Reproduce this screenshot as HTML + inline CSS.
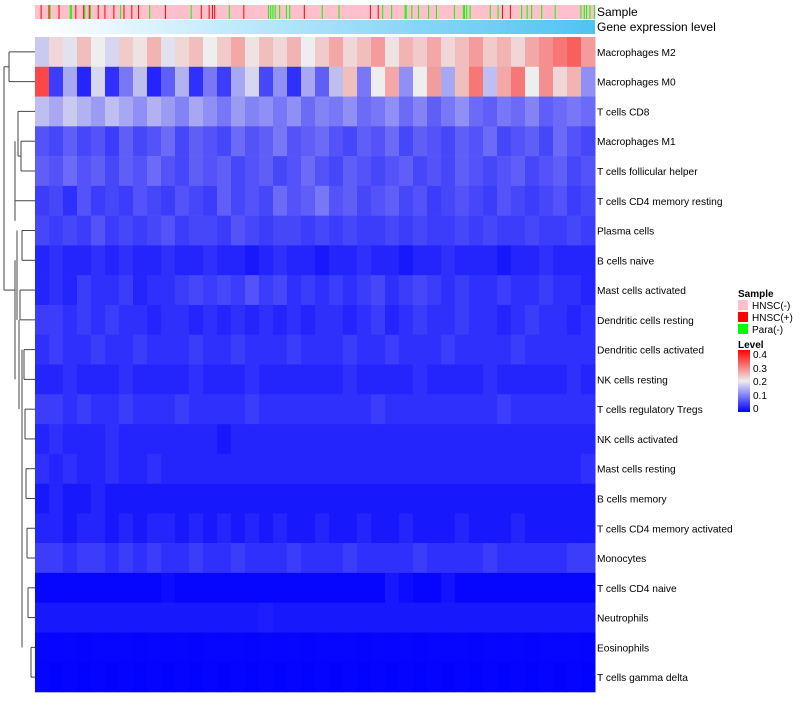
<!DOCTYPE html>
<html><head><meta charset="utf-8"><style>
body{margin:0;background:#fff;width:800px;height:700px;overflow:hidden;font-family:"Liberation Sans",sans-serif}
</style></head><body>
<svg id="chart" width="800" height="700" xmlns="http://www.w3.org/2000/svg" style="font-family:'Liberation Sans',sans-serif">
<defs>
<linearGradient id="geneGrad" x1="0" x2="1" y1="0" y2="0"><stop offset="0" stop-color="#ffffff"/><stop offset="1" stop-color="#4fc3f3"/></linearGradient>
<linearGradient id="levelGrad" x1="0" x2="0" y1="1" y2="0"><stop offset="0" stop-color="#0000ff"/><stop offset="0.5" stop-color="#eeeeee"/><stop offset="1" stop-color="#ff0000"/></linearGradient>
</defs>
<g id="dendro" stroke="#444" fill="none" stroke-width="1"></g>
<rect x="35" y="5" width="560" height="14" fill="#ffc0cb"/>
<g id="sampleMarks"></g>
<rect x="35" y="20" width="560" height="14" fill="url(#geneGrad)"/>
<text x="597" y="16" font-size="12">Sample</text>
<text x="597" y="31" font-size="12">Gene expression level</text>
<g id="cells"></g>
<g id="rowLabels" font-size="10.2"></g>
<g font-size="10">
<text x="738" y="297" font-weight="bold">Sample</text>
<rect x="738" y="300" width="10" height="10" fill="#ffc0cb"/><text x="752" y="309">HNSC(-)</text>
<rect x="738" y="312" width="10" height="10" fill="#ff0000"/><text x="752" y="321">HNSC(+)</text>
<rect x="738" y="324" width="10" height="10" fill="#00ff00"/><text x="752" y="333">Para(-)</text>
<text x="738" y="348" font-weight="bold">Level</text>
<rect x="738" y="350" width="12" height="62" fill="url(#levelGrad)"/>
<text x="753" y="358">0.4</text><text x="753" y="372">0.3</text><text x="753" y="385">0.2</text><text x="753" y="399">0.1</text><text x="753" y="412">0</text>
</g>
</svg>
<script>
const rowNames=["Macrophages M2","Macrophages M0","T cells CD8","Macrophages M1","T cells follicular helper","T cells CD4 memory resting","Plasma cells","B cells naive","Mast cells activated","Dendritic cells resting","Dendritic cells activated","NK cells resting","T cells regulatory  Tregs","NK cells activated","Mast cells resting","B cells memory","T cells CD4 memory activated","Monocytes","T cells CD4 naive","Neutrophils","Eosinophils","T cells gamma delta"];
const vM2=[0.17,0.22,0.19,0.24,0.2,0.18,0.23,0.21,0.25,0.19,0.22,0.24,0.2,0.23,0.26,0.21,0.24,0.22,0.25,0.2,0.23,0.26,0.22,0.24,0.27,0.21,0.25,0.23,0.26,0.22,0.24,0.27,0.23,0.25,0.22,0.26,0.28,0.3,0.32,0.27];
const vM0=[0.34,0.05,0.14,0.03,0.18,0.04,0.1,0.16,0.03,0.08,0.15,0.04,0.1,0.05,0.14,0.18,0.06,0.12,0.04,0.14,0.08,0.16,0.24,0.1,0.2,0.26,0.12,0.2,0.27,0.14,0.24,0.3,0.16,0.26,0.3,0.2,0.28,0.22,0.25,0.12];
const vCD8=[0.16,0.14,0.17,0.15,0.13,0.16,0.14,0.12,0.15,0.13,0.11,0.14,0.12,0.1,0.13,0.11,0.12,0.1,0.12,0.09,0.11,0.1,0.12,0.09,0.1,0.12,0.09,0.11,0.08,0.1,0.12,0.09,0.08,0.1,0.09,0.11,0.08,0.09,0.1,0.09];
const vM1=[0.07,0.06,0.08,0.06,0.07,0.05,0.08,0.06,0.07,0.09,0.06,0.08,0.07,0.06,0.09,0.07,0.08,0.1,0.07,0.08,0.09,0.07,0.06,0.08,0.07,0.09,0.06,0.08,0.07,0.06,0.08,0.07,0.09,0.06,0.07,0.08,0.06,0.09,0.07,0.06];
const vTfh=[0.08,0.07,0.09,0.07,0.08,0.06,0.08,0.07,0.09,0.07,0.06,0.08,0.07,0.08,0.06,0.07,0.08,0.06,0.07,0.09,0.07,0.06,0.08,0.07,0.06,0.07,0.08,0.06,0.07,0.06,0.08,0.07,0.06,0.07,0.08,0.06,0.07,0.08,0.06,0.07];
const vCD4r=[0.05,0.06,0.04,0.07,0.05,0.06,0.05,0.07,0.06,0.05,0.07,0.06,0.05,0.08,0.06,0.07,0.06,0.09,0.07,0.08,0.1,0.07,0.08,0.06,0.07,0.08,0.06,0.07,0.05,0.06,0.07,0.06,0.05,0.07,0.06,0.05,0.06,0.07,0.05,0.06];
const vPlasma=[0.06,0.05,0.06,0.05,0.07,0.05,0.06,0.05,0.06,0.07,0.05,0.06,0.06,0.05,0.07,0.06,0.05,0.06,0.06,0.05,0.06,0.05,0.06,0.05,0.05,0.06,0.05,0.06,0.05,0.05,0.06,0.05,0.06,0.05,0.05,0.06,0.05,0.05,0.06,0.05];
const vBn=[0.03,0.04,0.03,0.03,0.04,0.03,0.04,0.03,0.03,0.04,0.03,0.03,0.04,0.03,0.03,0.02,0.03,0.04,0.03,0.03,0.02,0.03,0.03,0.04,0.03,0.03,0.02,0.03,0.03,0.04,0.03,0.03,0.03,0.02,0.03,0.03,0.04,0.03,0.03,0.03];
const vMastA=[0.03,0.04,0.03,0.05,0.04,0.04,0.05,0.03,0.04,0.04,0.05,0.06,0.05,0.06,0.05,0.07,0.05,0.06,0.04,0.05,0.04,0.05,0.04,0.05,0.06,0.04,0.05,0.06,0.05,0.04,0.05,0.04,0.04,0.05,0.04,0.04,0.05,0.04,0.04,0.03];
const vDCr=[0.05,0.05,0.04,0.05,0.04,0.05,0.04,0.04,0.03,0.04,0.04,0.03,0.04,0.03,0.04,0.03,0.04,0.03,0.04,0.03,0.04,0.04,0.03,0.04,0.05,0.03,0.04,0.05,0.04,0.04,0.05,0.04,0.04,0.03,0.04,0.05,0.04,0.04,0.03,0.04];
const vDCa=[0.04,0.05,0.04,0.04,0.05,0.04,0.04,0.05,0.04,0.04,0.04,0.05,0.04,0.04,0.05,0.04,0.04,0.04,0.05,0.04,0.04,0.04,0.05,0.04,0.04,0.05,0.04,0.04,0.04,0.05,0.04,0.04,0.04,0.04,0.05,0.04,0.04,0.04,0.04,0.04];
const vNKr=[0.03,0.03,0.04,0.03,0.03,0.03,0.04,0.03,0.03,0.03,0.03,0.04,0.03,0.03,0.03,0.04,0.03,0.03,0.03,0.03,0.03,0.03,0.04,0.03,0.03,0.03,0.03,0.04,0.03,0.03,0.03,0.03,0.04,0.03,0.03,0.03,0.03,0.03,0.04,0.03];
const vTreg=[0.05,0.05,0.04,0.05,0.04,0.04,0.05,0.04,0.04,0.04,0.05,0.04,0.04,0.04,0.04,0.05,0.04,0.04,0.04,0.04,0.04,0.04,0.04,0.04,0.05,0.04,0.04,0.04,0.04,0.04,0.04,0.04,0.04,0.05,0.04,0.04,0.04,0.04,0.04,0.04];
const vNKa=[0.03,0.04,0.03,0.03,0.03,0.04,0.03,0.03,0.03,0.03,0.03,0.03,0.03,0.02,0.03,0.03,0.03,0.03,0.03,0.03,0.03,0.03,0.03,0.03,0.03,0.03,0.03,0.03,0.03,0.03,0.03,0.03,0.03,0.03,0.03,0.03,0.03,0.03,0.03,0.03];
const vMastR=[0.04,0.03,0.04,0.03,0.03,0.04,0.03,0.03,0.04,0.03,0.03,0.03,0.03,0.03,0.03,0.03,0.03,0.03,0.03,0.03,0.03,0.03,0.03,0.03,0.03,0.03,0.03,0.03,0.03,0.03,0.03,0.03,0.03,0.03,0.03,0.03,0.03,0.03,0.03,0.04];
const vBm=[0.02,0.03,0.02,0.02,0.03,0.02,0.02,0.02,0.02,0.02,0.02,0.02,0.02,0.02,0.02,0.02,0.02,0.02,0.02,0.02,0.02,0.02,0.02,0.02,0.02,0.02,0.02,0.02,0.02,0.02,0.02,0.02,0.02,0.02,0.02,0.02,0.02,0.02,0.02,0.02];
const vCD4a=[0.03,0.03,0.02,0.03,0.03,0.02,0.03,0.02,0.03,0.03,0.02,0.03,0.02,0.03,0.02,0.03,0.02,0.03,0.02,0.02,0.03,0.02,0.02,0.03,0.02,0.02,0.03,0.02,0.02,0.02,0.03,0.02,0.02,0.02,0.03,0.02,0.02,0.02,0.02,0.02];
const vMono=[0.05,0.05,0.04,0.05,0.05,0.04,0.05,0.04,0.05,0.04,0.04,0.05,0.04,0.04,0.05,0.04,0.04,0.04,0.05,0.04,0.04,0.04,0.05,0.04,0.04,0.04,0.04,0.05,0.04,0.04,0.04,0.04,0.05,0.04,0.04,0.04,0.04,0.04,0.05,0.05];
const vCD4n=[0.005,0.005,0.005,0.005,0.005,0.005,0.005,0.005,0.005,0.01,0.005,0.005,0.005,0.005,0.005,0.005,0.005,0.005,0.005,0.005,0.005,0.005,0.005,0.005,0.005,0.02,0.01,0.005,0.005,0.015,0.005,0.005,0.005,0.005,0.005,0.005,0.005,0.005,0.005,0.005];
const vNeut=[0.02,0.02,0.02,0.02,0.02,0.02,0.02,0.02,0.02,0.02,0.02,0.02,0.02,0.02,0.02,0.02,0.025,0.02,0.02,0.02,0.02,0.02,0.02,0.02,0.02,0.02,0.02,0.02,0.02,0.02,0.02,0.02,0.02,0.02,0.02,0.02,0.02,0.02,0.02,0.02];
const vEos=[0.005,0.004,0.005,0.004,0.005,0.004,0.005,0.004,0.005,0.004,0.005,0.004,0.005,0.004,0.005,0.004,0.005,0.004,0.005,0.004,0.005,0.004,0.005,0.004,0.005,0.004,0.005,0.004,0.005,0.004,0.005,0.004,0.005,0.004,0.005,0.004,0.005,0.004,0.005,0.004];
const vGd=[0.003,0.002,0.003,0.002,0.003,0.002,0.003,0.002,0.003,0.002,0.003,0.002,0.003,0.002,0.003,0.002,0.003,0.002,0.003,0.002,0.003,0.002,0.003,0.002,0.003,0.002,0.003,0.002,0.003,0.002,0.003,0.002,0.003,0.002,0.003,0.002,0.003,0.002,0.003,0.002];
const rowValues=[vM2,vM0,vCD8,vM1,vTfh,vCD4r,vPlasma,vBn,vMastA,vDCr,vDCa,vNKr,vTreg,vNKa,vMastR,vBm,vCD4a,vMono,vCD4n,vNeut,vEos,vGd];
const nSamples=500;
const posSamples=[5,12,21,36,43,48,56,62,70,79,86,92,116,148,155,158,160,186,240,299,306,417,424];
const paraSamples=[13,31,32,44,49,76,102,139,173,208,210,212,214,218,224,227,256,271,310,318,330,331,336,342,351,358,374,382,383,385,388,406,413,434,439,443,452,464,487,490,492,495,499];

const NS="http://www.w3.org/2000/svg";
const X0=35,X1=595,Y0=37,Y1=692;
const rowH=(Y1-Y0)/rowNames.length;
function xSample(i){return X0+(X1-X0)*i/nSamples;}
function yRow(r){return Y0+r*rowH;}
function color(v){
  let t=Math.max(0,Math.min(1,v/0.4));
  let a,b,u;
  if(t<0.5){a=[0,0,255];b=[238,238,238];u=t/0.5;}else{a=[238,238,238];b=[255,0,0];u=(t-0.5)/0.5;}
  return `rgb(${Math.round(a[0]+(b[0]-a[0])*u)},${Math.round(a[1]+(b[1]-a[1])*u)},${Math.round(a[2]+(b[2]-a[2])*u)})`;
}
const cells=document.getElementById('cells');
rowValues.forEach((vals,r)=>{
  const cw=(X1-X0)/vals.length;
  vals.forEach((v,c)=>{
    const rc=document.createElementNS(NS,'rect');
    rc.setAttribute('x',X0+c*cw);rc.setAttribute('y',yRow(r));
    rc.setAttribute('width',cw+0.5);rc.setAttribute('height',rowH+0.3);
    rc.setAttribute('fill',color(v));
    
    
    cells.appendChild(rc);
  });
  const t=document.createElementNS(NS,'text');
  t.setAttribute('x',597);t.setAttribute('y',yRow(r)+rowH/2+4);
  t.textContent=rowNames[r];
  
  
  document.getElementById('rowLabels').appendChild(t);
});
const sm=document.getElementById('sampleMarks');
function mark(i,col){
  const rc=document.createElementNS(NS,'rect');
  rc.setAttribute('x',xSample(i));rc.setAttribute('y',5);
  rc.setAttribute('width',1);rc.setAttribute('height',14);rc.setAttribute('fill',col);
  
  
  sm.appendChild(rc);
}
posSamples.forEach(i=>mark(i,'#ff0000'));
paraSamples.forEach(i=>mark(i,'#00ff00'));
const d=document.getElementById('dendro');
function ym(r){return yRow(r)+rowH/2;}
const segs=[
 [9,ym(0),35,ym(0)],[9,ym(1),35,ym(1)],[9,ym(0),9,ym(1)],
 [21,ym(3),35,ym(3)],[21,ym(4),35,ym(4)],[21,ym(3),21,ym(4)],
 [18,ym(2),35,ym(2)],[18,ym(2),18,(ym(3)+ym(4))/2],[18,(ym(3)+ym(4))/2,21,(ym(3)+ym(4))/2],
 [15,ym(5),35,ym(5)],[15,(ym(2)+ym(4))/2,15,ym(5)+20],
 [4,(ym(0)+ym(1))/2,9,(ym(0)+ym(1))/2],[4,(ym(0)+ym(1))/2,4,ym(8)],[4,ym(8),15,ym(8)],
 [22,ym(6),35,ym(6)],[22,ym(7),35,ym(7)],[22,ym(6),22,ym(7)],
 [20,ym(8),35,ym(8)],[20,ym(9),35,ym(9)],[20,ym(8),20,ym(9)],
 [17,ym(6),17,ym(9)],
 [24,ym(10),35,ym(10)],[24,ym(11),35,ym(11)],[24,ym(10),24,ym(11)],
 [25,ym(12),35,ym(12)],[25,ym(13),35,ym(13)],[25,ym(12),25,ym(13)],
 [26,ym(14),35,ym(14)],[26,ym(15),35,ym(15)],[26,ym(14),26,ym(15)],
 [27,ym(16),35,ym(16)],[27,ym(17),35,ym(17)],[27,ym(16),27,ym(17)],
 [28,ym(18),35,ym(18)],[28,ym(19),35,ym(19)],[28,ym(18),28,ym(19)],
 [31,ym(20),35,ym(20)],[31,ym(21),35,ym(21)],[31,ym(20),31,ym(21)],
 [22,ym(10),22,ym(20)],[19,ym(9),19,ym(12)],[15,ym(7),15,ym(11)]
];
segs.forEach(s=>{
  const l=document.createElementNS(NS,'line');
  l.setAttribute('x1',s[0]);l.setAttribute('y1',s[1]);l.setAttribute('x2',s[2]);l.setAttribute('y2',s[3]);
  
  
  d.appendChild(l);
});
</script>
</body></html>
